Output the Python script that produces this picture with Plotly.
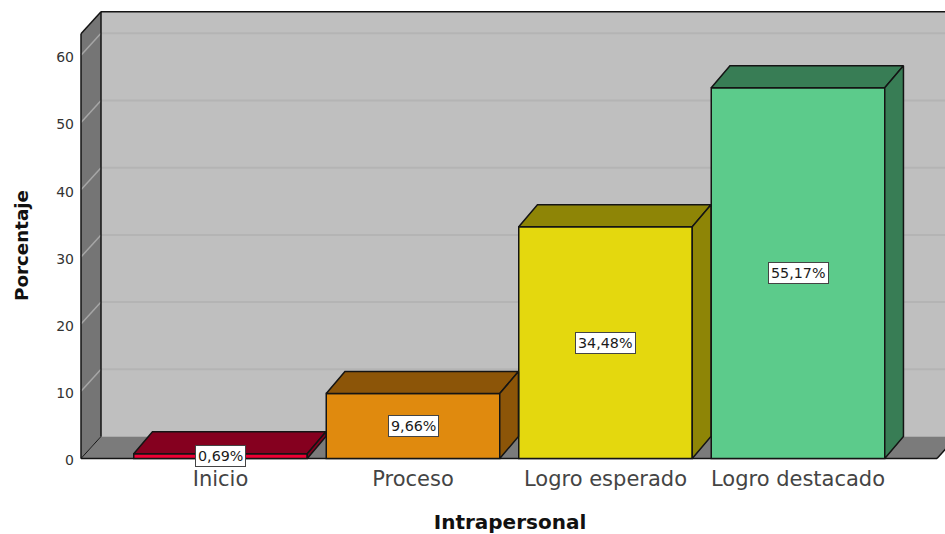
# Porcentaje por nivel de Intrapersonal, barras con aspecto tridimensional
import plotly.graph_objects as go

categorias = ["Inicio", "Proceso", "Logro esperado", "Logro destacado"]
porcentajes = [0.69, 9.66, 34.48, 55.17]
etiquetas = ["0,69%", "9,66%", "34,48%", "55,17%"]
color_frente = ["#ee0033", "#e08a0e", "#e4d80e", "#5ccb8b"]
color_fondo = ["#85001f", "#8c5508", "#8e8506", "#387d55"]
marcas_y = [0, 10, 20, 30, 40, 50, 60]

# Escala de los ejes dentro de la figura (pixeles por unidad)
ANCHO, ALTO = 945, 534
PX_CAT, PX_CERO_X = 192.5, 220.5
PX_VAL, PX_CERO_Y = 6.72, 458.5
IZQ, ARRIBA, ABAJO = 75, 7, 464

# Profundidad de la perspectiva, en unidades de cada eje
PROF_X = 20 / PX_CAT
PROF_BARRA_X = 18.7 / PX_CAT
PROF_Y = 22 / PX_VAL
ANCHO_BARRA = 173.5 / PX_CAT
TECHO = 63.2
BORDE = "#141414"

x_min = (IZQ - PX_CERO_X) / PX_CAT
x_max = (ANCHO - PX_CERO_X) / PX_CAT
y_min = (PX_CERO_Y - ABAJO) / PX_VAL
y_max = (PX_CERO_Y - ARRIBA) / PX_VAL
x_pared = (81 - PX_CERO_X) / PX_CAT
x_suelo = (937 - PX_CERO_X) / PX_CAT


def poligono(puntos):
    return "M " + " L ".join(f"{x},{y}" for x, y in puntos) + " Z"


def forma(puntos, relleno):
    return dict(type="path", xref="x", yref="y", layer="below",
                path=poligono(puntos), fillcolor=relleno, line=dict(width=0))


def segmento(x0, y0, x1, y1, color, ancho):
    return dict(type="line", xref="x", yref="y", layer="below",
                x0=x0, y0=y0, x1=x1, y1=y1, line=dict(color=color, width=ancho))


fondo_x = x_pared + PROF_X
formas = [
    # pared del fondo
    forma([(fondo_x, PROF_Y), (x_max + 1, PROF_Y), (x_max + 1, TECHO + PROF_Y), (fondo_x, TECHO + PROF_Y)], "#bfbfbf"),
    # pared lateral
    forma([(x_pared, 0), (fondo_x, PROF_Y), (fondo_x, TECHO + PROF_Y), (x_pared, TECHO)], "#757575"),
    # suelo
    forma([(x_pared, 0), (fondo_x, PROF_Y), (x_suelo + PROF_X, PROF_Y), (x_suelo, 0)], "#7b7b7b"),
]
# lineas de cuadricula sobre el fondo y la pared lateral
for v in marcas_y[1:]:
    formas.append(segmento(fondo_x, v + PROF_Y, x_max + 1, v + PROF_Y, "#b4b4b4", 2))
    formas.append(segmento(x_pared, v, fondo_x, v + PROF_Y, "#a6a6a6", 1.5))
# aristas de la caja
formas += [
    segmento(x_pared, 0, x_pared, TECHO, BORDE, 1.5),
    segmento(fondo_x, PROF_Y, fondo_x, TECHO + PROF_Y, BORDE, 1.5),
    segmento(x_pared, TECHO, fondo_x, TECHO + PROF_Y, BORDE, 1.5),
    segmento(fondo_x, TECHO + PROF_Y, x_max + 1, TECHO + PROF_Y, BORDE, 1.5),
    segmento(x_pared, 0, fondo_x, PROF_Y, BORDE, 1),
    segmento(x_pared, 0, x_suelo, 0, BORDE, 1.5),
    segmento(x_suelo, 0, x_suelo + PROF_X, PROF_Y, BORDE, 1.5),
]

fig = go.Figure()
posiciones = list(range(len(categorias)))

# caras frontales
fig.add_trace(go.Bar(
    x=posiciones, y=porcentajes, width=ANCHO_BARRA,
    marker=dict(color=color_frente, line=dict(color=BORDE, width=1.5)),
    showlegend=False, hoverinfo="skip",
))

# caras superior y lateral de cada barra
for i, v in enumerate(porcentajes):
    izq, der = i - ANCHO_BARRA / 2, i + ANCHO_BARRA / 2
    fig.add_trace(go.Scatter(
        x=[izq, izq + PROF_BARRA_X, der + PROF_BARRA_X, der, izq],
        y=[v, v + PROF_Y, v + PROF_Y, v, v],
        mode="lines", fill="toself", fillcolor=color_fondo[i],
        line=dict(color=BORDE, width=1.5), showlegend=False, hoverinfo="skip",
    ))
    fig.add_trace(go.Scatter(
        x=[der, der + PROF_BARRA_X, der + PROF_BARRA_X, der, der],
        y=[0, PROF_Y, v + PROF_Y, v, 0],
        mode="lines", fill="toself", fillcolor=color_fondo[i],
        line=dict(color=BORDE, width=1.5), showlegend=False, hoverinfo="skip",
    ))

# etiquetas de valor en el centro de cada barra
for i, v in enumerate(porcentajes):
    fig.add_annotation(
        x=i, y=v / 2, text=etiquetas[i], showarrow=False,
        font=dict(family="DejaVu Sans", size=14.3, color="#1a1a1a"),
        bgcolor="white", bordercolor="#444444", borderwidth=1, borderpad=2,
    )

# titulo del eje de valores
fig.add_annotation(
    xref="paper", x=0, xanchor="center", xshift=21 - IZQ,
    yref="y", y=(PX_CERO_Y - 246) / PX_VAL,
    text="<b>Porcentaje</b>", textangle=-90, showarrow=False,
    font=dict(family="DejaVu Sans", size=18.3, color="#111111"),
)

fig.update_layout(
    width=ANCHO, height=ALTO,
    margin=dict(l=IZQ, r=0, t=ARRIBA, b=ALTO - ABAJO),
    paper_bgcolor="white", plot_bgcolor="white",
    shapes=formas,
    font=dict(family="DejaVu Sans", color="#333333"),
    xaxis=dict(
        range=[x_min, x_max], tickmode="array", tickvals=posiciones, ticktext=categorias,
        showgrid=False, zeroline=False, showline=False,
        ticks="",
        tickfont=dict(size=21, color="#444444"),
        title=dict(text="<b>Intrapersonal</b>", standoff=24,
                   font=dict(size=20, color="#111111")),
    ),
    yaxis=dict(
        range=[y_min, y_max], tickmode="array", tickvals=marcas_y,
        showgrid=False, zeroline=False, showline=False,
        ticks="", ticklabelshift=2,
        tickfont=dict(size=14, color="#333333"),
    ),
)

fig.write_html("out.html")
